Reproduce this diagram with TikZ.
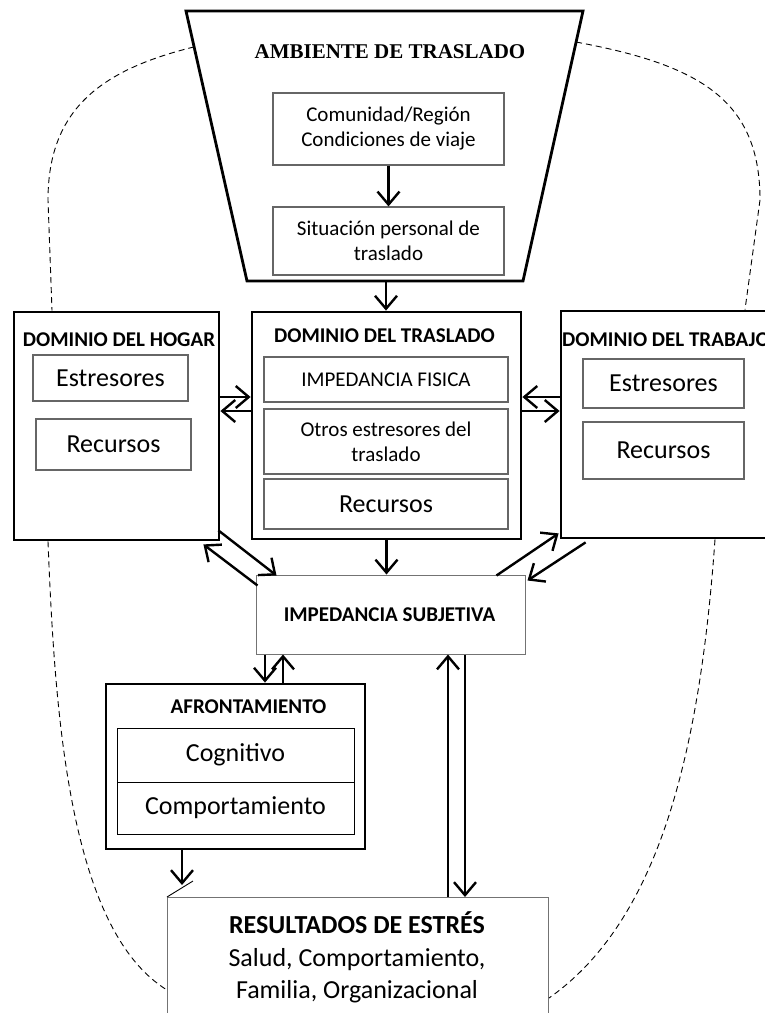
\documentclass[tikz,border=0pt]{standalone}
\usepackage{fontspec}
\setmainfont{Carlito}
\newfontfamily\timesfont{Liberation Serif}
\usetikzlibrary{arrows.meta,calc}
\newcommand\fsz[2]{\fontsize{#1}{#2}\selectfont}

\tikzset{
  box/.style={draw, line width=2.8pt, inner sep=0pt},
  sub/.style={draw=black!60, line width=1.2pt, inner sep=0pt, align=center},
  cell/.style={draw, line width=1pt, inner sep=0pt},
  plain/.style={draw=black!55, line width=1pt, inner sep=0pt},
  ttl/.style={font=\bfseries\fsz{21}{25}, inner sep=0pt},
  big/.style={font=\fsz{26}{30}},
  small/.style={font=\fsz{21}{25}},
  arr/.style={line width=2.4pt, -{Straight Barb[length=13pt,width=22pt]}},
  dsh/.style={dash pattern=on 6pt off 4pt, line width=0.9pt}
}

\begin{document}
\begin{tikzpicture}[x=1pt,y=-1pt]
\useasboundingbox (0,0) rectangle (765,1013);
\clip (0,0) rectangle (765,1013);

% travel environment (trapezoid)
\coordinate (tTL) at (186,11);
\coordinate (tTR) at (583,11);
\coordinate (tBR) at (523,281);
\coordinate (tBL) at (247,281);
\coordinate (trapB) at (386,281);
\draw[line width=2.8pt] (tTL) -- (tTR) -- (tBR) -- (tBL) -- cycle;
\node[font=\timesfont\bfseries\fsz{21}{25}, inner sep=0pt] (ambT) at (390,52) {AMBIENTE DE TRASLADO};
\node[sub, small, minimum width=231pt, minimum height=72pt] (comu) at (388.5,129) {Comunidad/Región\\Condiciones de viaje};
\node[sub, small, minimum width=231pt, minimum height=68pt] (sit) at (388.5,241) {Situación personal de\\traslado};

% home domain
\node[box, minimum width=205pt, minimum height=228pt] (hogar) at (116.5,426) {};
\node[ttl] (hogT) at (119,340) {DOMINIO DEL HOGAR};
\node[sub, big, minimum width=155pt, minimum height=46pt] (hogEst) at (110.5,378) {Estresores};
\node[sub, big, minimum width=155pt, minimum height=51pt] (hogRec) at (113.5,444.5) {Recursos};

% commuting domain
\node[box, minimum width=269pt, minimum height=227pt] (traslado) at (386.5,425.5) {};
\node[ttl] (trasT) at (384.5,336) {DOMINIO DEL TRASLADO};
\node[sub, small, minimum width=244pt, minimum height=45pt] (fis) at (386,379.5) {IMPEDANCIA FISICA};
\node[sub, small, minimum width=244pt, minimum height=65pt] (otros) at (386,441.5) {Otros estresores del\\traslado};
\node[sub, big, minimum width=244pt, minimum height=50pt] (trasRec) at (386,504) {Recursos};

% work domain
\node[box, minimum width=219pt, minimum height=227pt] (trabajo) at (670.5,424.5) {};
\node[ttl, anchor=west] (trabT) at (562,340) {DOMINIO DEL TRABAJO};
\node[sub, big, minimum width=161pt, minimum height=49pt] (trabEst) at (663.5,383.5) {Estresores};
\node[sub, big, minimum width=161pt, minimum height=57pt] (trabRec) at (663.5,450.5) {Recursos};

% subjective impedance
\node[plain, minimum width=269pt, minimum height=79pt] (subj) at (390.5,614.5) {};
\node[ttl] (subjT) at (389.5,615) {IMPEDANCIA SUBJETIVA};

% coping
\node[box, minimum width=259pt, minimum height=165pt] (afr) at (235.5,766.5) {};
\node[ttl] (afrT) at (248.5,707) {AFRONTAMIENTO};
\node[cell, big, minimum width=237pt, minimum height=54pt] (cog) at (235.5,755) {Cognitivo};
\node[cell, big, minimum width=237pt, minimum height=52pt] (comp) at (235.5,808) {Comportamiento};

% stress outcomes
\node[plain, anchor=north west, minimum width=381pt, minimum height=150pt] (res) at (167,897) {};
\node[font=\fsz{26}{32.5}, align=center, inner sep=0pt] (resT) at (357,957.5)
  {\textbf{RESULTADOS DE ESTRÉS}\\Salud, Comportamiento,\\Familia, Organizacional};
\coordinate (notch) at (193,881);
\draw[line width=0.9pt] (res.north west) -- (notch);

% helper rows and columns
\coordinate (r1) at (0,397);
\coordinate (r2) at (0,411);
\coordinate (c1) at (265,0);
\coordinate (c2) at (283,0);
\coordinate (c3) at (182,0);
\coordinate (c4) at (448,0);
\coordinate (c5) at (465,0);
\coordinate (afrEnd) at (182,885);

% connectors
\draw[arr] (comu.south) -- (sit.north);
\draw[arr] (trapB) -- (trapB |- traslado.north);
\draw[arr] (hogar.east |- r1) -- (traslado.west |- r1);
\draw[arr] (traslado.west |- r2) -- (hogar.east |- r2);
\draw[arr] (trabajo.west |- r1) -- (traslado.east |- r1);
\draw[arr] (traslado.east |- r2) -- (trabajo.west |- r2);
\draw[arr] (traslado.south) -- (traslado.south |- subj.north);
\draw[arr] ($(hogar.south east)+(-2,-11)$) -- ($(subj.north west)+(21,1)$);
\draw[arr] ($(subj.north west)+(2,11)$) -- ($(hogar.south east)+(-17,3)$);
\draw[arr] ($(subj.north east)+(-29,1)$) -- ($(trabajo.south west)+(-1,-6)$);
\draw[arr] ($(trabajo.south west)+(26,3)$) -- ($(subj.north east)+(2,6)$);
\draw[arr] (c1 |- subj.south) -- (c1 |- afr.north);
\draw[arr] (c2 |- afr.north) -- (c2 |- subj.south);
\draw[arr] (c3 |- afr.south) -- (afrEnd);
\draw[arr] (c4 |- res.north) -- (c4 |- subj.south);
\draw[arr] (c5 |- subj.south) -- (c5 |- res.north);

% dashed feedback curves
\draw[dsh] ($(tTL)!0.133!(tBL)$) .. controls (100,70) and (48,110) .. (48,200) -- (hogar.north west -| 52,0);
\draw[dsh] ($(tTR)!0.115!(tBR)$) .. controls (700,65) and (760,100) .. (760,200) -- (trabajo.north west -| 745,0);
\draw[dsh] (hogar.south west -| 48,0) .. controls (55,720) and (70,930) .. (res.west |- 0,990);
\draw[dsh] (trabajo.south west -| 715,0) .. controls (700,750) and (660,920) .. (res.east |- 0,998);
\end{tikzpicture}
\end{document}
